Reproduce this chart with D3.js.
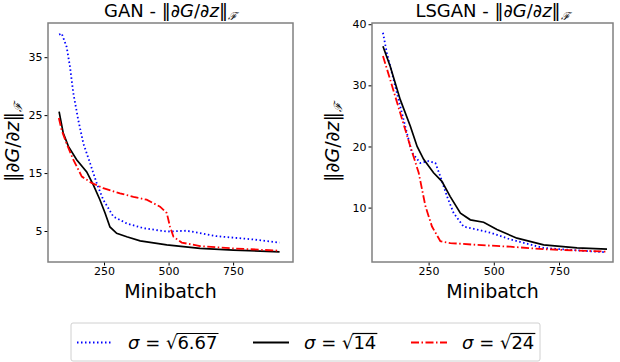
<!DOCTYPE html>
<html>
<head>
<meta charset="utf-8">
<script src="https://cdn.jsdelivr.net/npm/d3@7"></script>
<style>
  body { margin: 0; background: #fff; }
  svg { font-family: "DejaVu Sans", sans-serif; }
</style>
</head>
<body>
<svg id="chart" width="620" height="362"></svg>
<script>
// x ticks and y ticks per panel
const xTicks = [250, 500, 750]
const ganYTicks = [5, 15, 25, 35]
const lsganYTicks = [10, 20, 30, 40]

const legendLabels = ['6.67', '14', '24']

// GAN panel: [minibatch, norm]
const ganSigma667 = [[76,38.9],[86,39.1],[105,36.8],[118,33.4],[131,28.8],[150,24.2],[170,20.1],[196,16.7],[222,13.2],[247,10.4],[286,7.5],[338,6.3],[402,5.5],[493,4.9],[570,5.05],[687,4.1],[816,3.6],[930,3.0]]
const ganSigma14 = [[76,25.6],[92,21.9],[112,19.6],[144,17.3],[183,15.2],[209,12.9],[234,10.4],[254,8.1],[273,5.7],[299,4.6],[338,4.0],[390,3.3],[493,2.6],[622,2.0],[751,1.7],[930,1.4]]
const ganSigma24 = [[75,24.5],[86,22.4],[105,20.1],[131,17.3],[164,14.4],[202,13.3],[247,12.4],[312,11.5],[364,10.9],[415,10.4],[467,9.2],[493,8.1],[506,5.7],[519,4.0],[551,3.0],[622,2.4],[751,2.0],[930,1.6]]

// LSGAN panel
const lsSigma667 = [[75,38.6],[90,35.3],[116,30.9],[141,26.6],[167,22.2],[186,19.0],[218,17.3],[250,17.6],[276,17.3],[295,15.1],[321,11.8],[346,9.1],[384,6.9],[436,6.4],[487,5.9],[563,4.8],[691,3.4],[819,3.0],[928,2.7]]
const lsSigma14 = [[75,36.4],[103,33.1],[141,27.7],[180,23.3],[206,20.0],[231,17.9],[269,15.7],[301,14.3],[333,11.8],[372,9.1],[410,8.0],[461,7.6],[512,6.4],[589,5.0],[691,3.9],[819,3.4],[934,3.2]]
const lsSigma24 = [[75,34.8],[103,30.9],[141,25.5],[180,20.0],[212,15.7],[238,10.2],[263,6.9],[295,4.5],[333,4.2],[436,3.9],[563,3.6],[691,3.2],[928,2.8]]

const styles = [
  { color: '#0000ff', dash: '1.5,2.5' },
  { color: '#000000', dash: null },
  { color: '#ff0000', dash: '8,2.5,1.5,2.5' }
]

const svg = d3.select('#chart')

const panels = [
  { title: 'GAN', left: 48, right: 293, xDomain: [33, 982], yDomain: [-0.35, 40.9], yTicks: ganYTicks,
    series: [ganSigma667, ganSigma14, ganSigma24], ylabelX: 13 },
  { title: 'LSGAN', left: 372, right: 613, xDomain: [33, 957], yDomain: [1.1, 40.2], yTicks: lsganYTicks,
    series: [lsSigma667, lsSigma14, lsSigma24], ylabelX: 333 }
]

const axTop = 23, axBottom = 262

// writes ‖∂G/∂z‖_F into a text element
const normLabel = (t, prefix) => {
  if (prefix) t.append('tspan').text(prefix)
  t.append('tspan').text('‖∂')
  t.append('tspan').attr('font-style', 'italic').text('G')
  t.append('tspan').text('/∂')
  t.append('tspan').attr('font-style', 'italic').text('z')
  t.append('tspan').text('‖')
  t.append('tspan').attr('font-size', '0.6em').attr('dy', '0.3em').attr('font-style', 'italic')
    .attr('font-family', 'DejaVu Serif').text('ℱ')
}

panels.forEach(p => {
  let x = d3.scaleLinear().domain(p.xDomain).range([p.left, p.right])
  let y = d3.scaleLinear().domain(p.yDomain).range([axBottom, axTop])

  let g = svg.append('g')

  let line = d3.line().x(d => x(d[0])).y(d => y(d[1]))

  p.series.forEach((s, i) => {
    g.append('path')
      .attr('d', line(s))
      .attr('fill', 'none')
      .attr('stroke', styles[i].color)
      .attr('stroke-width', i == 1 ? 1.7 : 1.8)
      .attr('stroke-dasharray', styles[i].dash)
  })

  let xAxis = g.append('g').attr('transform', `translate(0,${axBottom})`)
    .call(d3.axisBottom(x).tickValues(xTicks).tickSize(3.5).tickPadding(2))
  let yAxis = g.append('g').attr('transform', `translate(${p.left},0)`)
    .call(d3.axisLeft(y).tickValues(p.yTicks).tickSize(3.5).tickPadding(2))

  ;[xAxis, yAxis].forEach(a => {
    a.select('.domain').remove()
    a.selectAll('text').attr('font-size', 11).attr('font-family', 'DejaVu Sans').attr('fill', '#000')
  })

  g.append('rect')
    .attr('x', p.left).attr('y', axTop)
    .attr('width', p.right - p.left).attr('height', axBottom - axTop)
    .attr('fill', 'none').attr('stroke', '#808080').attr('stroke-width', 1.5)

  let title = g.append('text')
    .attr('x', (p.left + p.right) / 2).attr('y', 17)
    .attr('text-anchor', 'middle').attr('font-size', 18)
  normLabel(title, p.title + ' - ')

  g.append('text')
    .attr('x', (p.left + p.right) / 2).attr('y', 298)
    .attr('text-anchor', 'middle').attr('font-size', 19)
    .text('Minibatch')

  let yl = g.append('text')
    .attr('transform', `translate(${p.ylabelX + 6},${(axTop + axBottom) / 2}) rotate(-90)`)
    .attr('text-anchor', 'middle').attr('font-size', 19)
  normLabel(yl)
})

// legend
let legend = svg.append('g')
legend.append('rect')
  .attr('x', 71).attr('y', 323).attr('width', 469).attr('height', 38).attr('rx', 2)
  .attr('fill', '#fff').attr('stroke', '#d0d0d0').attr('stroke-width', 1)

const legendX = [77, 253, 411]
legendLabels.forEach((lab, i) => {
  let lx = legendX[i]
  legend.append('line')
    .attr('x1', lx).attr('x2', lx + 36).attr('y1', 342.5).attr('y2', 342.5)
    .attr('stroke', styles[i].color).attr('stroke-width', 1.8)
    .attr('stroke-dasharray', styles[i].dash)

  let t = legend.append('text').attr('x', lx + 51).attr('y', 349).attr('font-size', 18)
  t.append('tspan').attr('font-style', 'italic').text('σ')
  t.append('tspan').text(' = √')
  t.append('tspan').text(lab)
  // overline over the radicand
  let n = t.node().getNumberOfChars()
  let start = t.node().getSubStringLength(0, n - lab.length)
  let len = t.node().getSubStringLength(n - lab.length, lab.length)
  let x0 = lx + 51 + start
  legend.append('line')
    .attr('x1', x0 - 1).attr('x2', x0 + len + 1).attr('y1', 333.5).attr('y2', 333.5)
    .attr('stroke', '#000').attr('stroke-width', 1.2)
})
</script>
</body>
</html>
